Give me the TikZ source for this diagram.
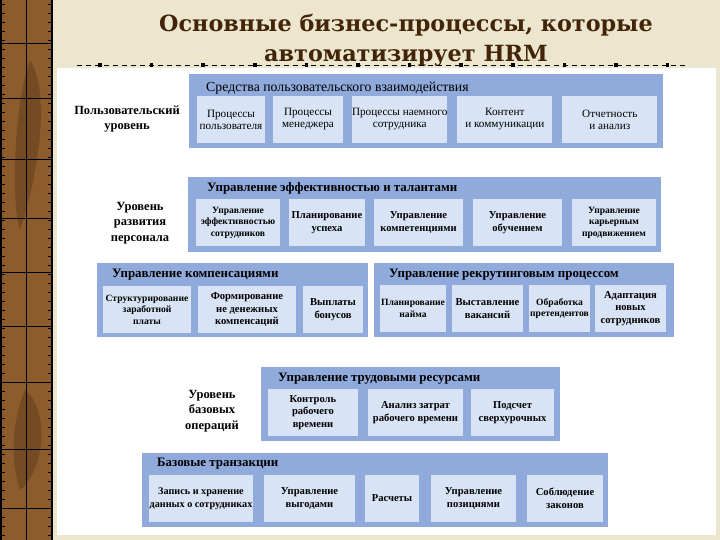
\documentclass[tikz,border=0pt]{standalone}
\usepackage{fontspec}
\setmainfont{Liberation Serif}
\newfontfamily\headfont{DejaVu Serif}
\usetikzlibrary{positioning}

\definecolor{parchment}{RGB}{236,230,206}
\definecolor{stripbrown}{RGB}{140,92,44}
\definecolor{stripdark}{RGB}{96,60,30}
\definecolor{titlebrown}{RGB}{66,36,8}
\definecolor{groupblue}{RGB}{143,170,219}
\definecolor{itemblue}{RGB}{216,227,245}

\begin{document}
\begin{tikzpicture}[
        x=1pt, y=-1pt,
        node distance=9pt,
        groupbox/.style={
            rectangle,
            fill=groupblue,
            anchor=north west,
            minimum height=74pt,
            inner sep=0pt,
            outer sep=0pt
        },
        itembox/.style={
            rectangle,
            fill=itemblue,
            minimum height=47pt,
            inner xsep=0pt,
            inner ysep=1pt,
            outer sep=0pt,
            align=center,
            font=\bfseries\fontsize{10.6}{12.5}\selectfont
        },
        smallitem/.style={itembox, font=\bfseries\fontsize{9.6}{11.5}\selectfont},
        plainitem/.style={itembox, font=\fontsize{11.2}{12}\selectfont},
        grouptitle/.style={anchor=west, inner sep=0pt, font=\bfseries\fontsize{12.9}{14}\selectfont},
        levelname/.style={align=center, inner sep=0pt, font=\bfseries\fontsize{12.5}{15.5}\selectfont},
        dotrule/.style={line width=0.8pt, dash pattern=on 5pt off 4pt}
    ]

    % page, panel and side strip
    \useasboundingbox (0,0) rectangle (720,540);
    \fill[parchment] (0,0) rectangle (720,540);
    \fill[white] (57,68) rectangle (716,535);
    \fill[stripbrown] (0,0) rectangle (53,540);
    \fill[stripdark, opacity=0.5] (30,60) .. controls (50,90) and (40,170) .. (20,230) .. controls (10,200) and (15,100) .. (30,60);
    \fill[stripdark, opacity=0.5] (25,390) .. controls (50,410) and (45,470) .. (20,490) .. controls (10,460) and (12,420) .. (25,390);
    \draw[line width=1.5pt] (1,0) -- (1,540) (52,0) -- (52,540);
    \draw[line width=0.7pt] (26,0) -- (26,540);
    \draw[line width=0.7pt] (1,43) -- (52,43) (1,98) -- (52,98) (1,159) -- (52,159)
        (1,218) -- (52,218) (1,272) -- (52,272) (1,326) -- (52,326)
        (1,382) -- (52,382) (1,449) -- (52,449) (1,508) -- (52,508);
    \foreach \y in {4,13,...,536} {
        \draw[line width=0.8pt] (0,\y) -- (5,\y) (48,\y) -- (53,\y);
    }

    % title and rule
    \node[align=center, text=titlebrown, font=\headfont\bfseries\fontsize{22.3}{30}\selectfont] (title) at (406,40)
        {Основные бизнес-процессы, которые\\автоматизирует HRM};
    \coordinate (rulestart) at (77,65);
    \coordinate (ruleend) at (688,65);
    \draw[dotrule] (rulestart) -- (ruleend);
    \foreach \i in {0,...,11} {
        \fill (100+51.6*\i-1.75,63.25) rectangle +(3.5,3.5);
    }

    % user level
    \node[levelname] (userlevel) at (127,119) {Пользовательский\\уровень};
    \node[groupbox, minimum width=474pt] (ui) at (189,74) {};
    \node[grouptitle, font=\fontsize{13.8}{15}\selectfont] (uititle) at ([xshift=17pt,yshift=-14pt]ui.north west)
        {Средства пользовательского взаимодействия};
    \node[plainitem, minimum width=68pt, anchor=north west] (uiuser) at ([xshift=8pt,yshift=-22pt]ui.north west)
        {Процессы\\пользователя};
    \node[plainitem, minimum width=70pt, right=8pt of uiuser] (uimanager) {Процессы\\менеджера};
    \node[plainitem, minimum width=95pt, right=9pt of uimanager] (uiemployee) {Процессы наемного\\сотрудника};
    \node[plainitem, minimum width=95pt, right=10pt of uiemployee] (uicontent) {Контент\\и коммуникации};
    \node[plainitem, minimum width=95pt, right=10pt of uicontent] (uireport) {Отчетность\\и анализ};

    % development level
    \node[levelname] (devlevel) at (140,223) {Уровень\\развития\\персонала};
    \node[groupbox, minimum width=473pt, minimum height=75pt] (talent) at (188,177) {};
    \node[grouptitle] (talenttitle) at ([xshift=19pt,yshift=-11pt]talent.north west)
        {Управление эффективностью и талантами};
    \node[smallitem, minimum width=84pt, anchor=north west] (perf) at ([xshift=8pt,yshift=-22pt]talent.north west)
        {Управление\\эффективностью\\сотрудников};
    \node[itembox, minimum width=76pt, right=9pt of perf] (success) {Планирование\\успеха};
    \node[itembox, minimum width=89pt, right=9pt of success] (skills) {Управление\\компетенциями};
    \node[itembox, minimum width=89pt, right=10pt of skills] (learning) {Управление\\обучением};
    \node[smallitem, minimum width=84pt, right=10pt of learning] (career) {Управление\\карьерным\\продвижением};

    \node[groupbox, minimum width=271pt] (comp) at (97,263) {};
    \node[grouptitle] (comptitle) at ([xshift=15pt,yshift=-12pt]comp.north west) {Управление компенсациями};
    \node[smallitem, minimum width=88pt, anchor=north west] (salary) at ([xshift=6pt,yshift=-23pt]comp.north west)
        {Структурирование\\заработной\\платы};
    \node[itembox, minimum width=98pt, right=7pt of salary] (nonmoney) {Формирование\\не денежных\\компенсаций};
    \node[itembox, minimum width=60pt, right=7pt of nonmoney] (bonus) {Выплаты\\бонусов};

    \node[groupbox, minimum width=300pt] (recruit) at (374,263) {};
    \node[grouptitle] (recruittitle) at ([xshift=15pt,yshift=-12pt]recruit.north west)
        {Управление рекрутинговым процессом};
    \node[smallitem, minimum width=66pt, anchor=north west] (hiring) at ([xshift=6pt,yshift=-22pt]recruit.north west)
        {Планирование\\найма};
    \node[itembox, minimum width=71pt, right=6pt of hiring] (vacancy) {Выставление\\вакансий};
    \node[smallitem, minimum width=61pt, right=6pt of vacancy] (applicant) {Обработка\\претендентов};
    \node[itembox, minimum width=71pt, right=5pt of applicant] (onboard) {Адаптация\\новых\\сотрудников};

    % base level
    \node[levelname] (baselevel) at (212,411) {Уровень\\базовых\\операций};
    \node[groupbox, minimum width=299pt] (labor) at (261,367) {};
    \node[grouptitle] (labortitle) at ([xshift=17pt,yshift=-12pt]labor.north west) {Управление трудовыми ресурсами};
    \node[itembox, minimum width=90pt, anchor=north west] (worktime) at ([xshift=7pt,yshift=-22pt]labor.north west)
        {Контроль\\рабочего\\времени};
    \node[itembox, minimum width=95pt, right=10pt of worktime] (timecost) {Анализ затрат\\рабочего времени};
    \node[itembox, minimum width=83pt, right=8pt of timecost] (overtime) {Подсчет\\сверхурочных};

    \node[groupbox, minimum width=466pt] (base) at (142,453) {};
    \node[grouptitle] (basetitle) at ([xshift=15pt,yshift=-11pt]base.north west) {Базовые транзакции};
    \node[itembox, minimum width=104pt, anchor=north west, font=\bfseries\fontsize{10.2}{12.5}\selectfont] (records)
        at ([xshift=7pt,yshift=-22pt]base.north west) {Запись и хранение\\данных о сотрудниках};
    \node[itembox, minimum width=91pt, right=11pt of records] (benefits) {Управление\\выгодами};
    \node[itembox, minimum width=54pt, right=10pt of benefits] (payroll) {Расчеты};
    \node[itembox, minimum width=85pt, right=12pt of payroll] (positions) {Управление\\позициями};
    \node[itembox, minimum width=76pt, right=11pt of positions] (laws) {Соблюдение\\законов};

\end{tikzpicture}
\end{document}
